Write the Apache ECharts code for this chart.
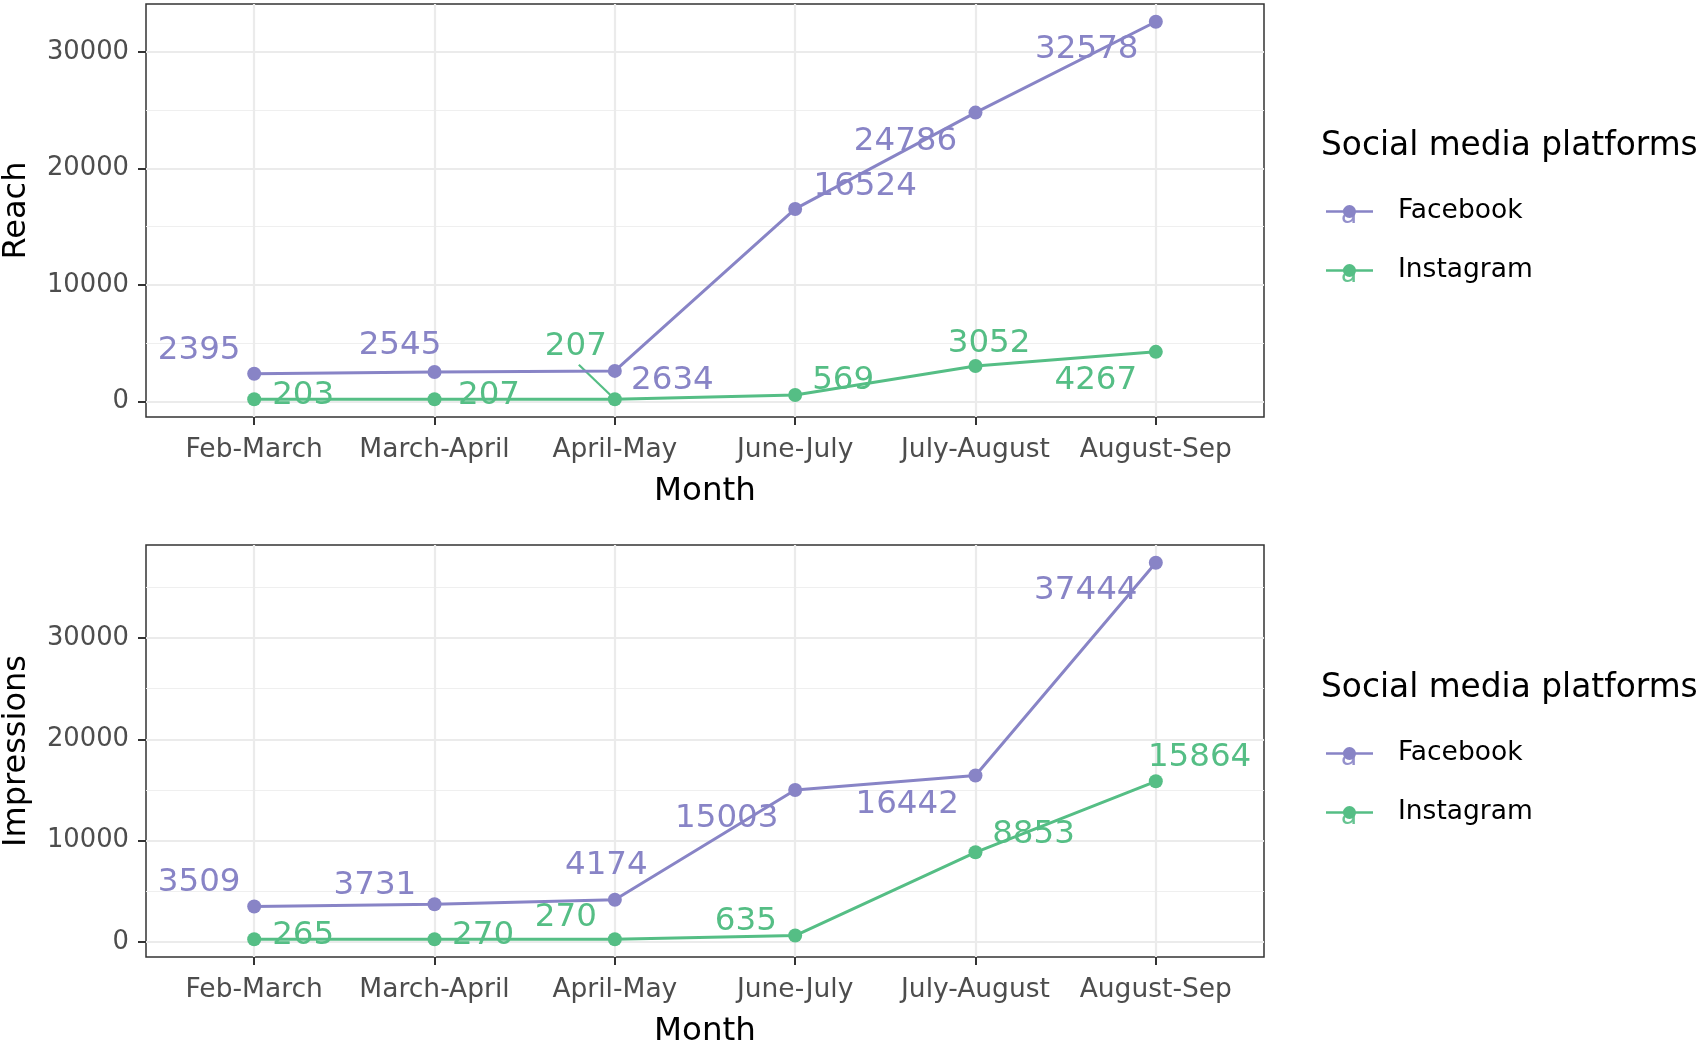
<!DOCTYPE html>
<html><head><meta charset="utf-8">
<script src="https://cdn.jsdelivr.net/npm/echarts@6/dist/echarts.min.js"></script>
<style>html,body{margin:0;padding:0;background:#fff}#c{width:1699px;height:1044px}</style>
</head><body><div id="c"></div>
<script>
// ---- data ----
const months = ['Feb-March', 'March-April', 'April-May', 'June-July', 'July-August', 'August-Sep'];
const reachFacebook = [2395, 2545, 2634, 16524, 24786, 32578];
const reachInstagram = [203, 207, 207, 569, 3052, 4267];
const impFacebook = [3509, 3731, 4174, 15003, 16442, 37444];
const impInstagram = [265, 270, 270, 635, 8853, 15864];
const reachTicks = [0, 10000, 20000, 30000];
const reachMinorTicks = [5000, 15000, 25000];
const impTicks = [0, 10000, 20000, 30000];
const impMinorTicks = [5000, 15000, 25000, 35000];
const platforms = ['Facebook', 'Instagram'];

// ---- style ----
const FONT = 'DejaVu Sans';
const COLORS = { Facebook: '#8884C6', Instagram: '#55BE85' };
// label offsets (px) relative to each point, like ggrepel placement
const labelOffsets = [
  [[-55, -25], [-34.5, -28], [57.6, 7.7], [70, -24], [-70, 27], [-69, 26]],
  [[49, -5.5], [54.5, -5.5], [-39, -54], [48, -16], [13.6, -24.4], [-60, 26.7]],
  [[-55, -25], [-59.6, -20], [-8.5, -35.6], [-68.4, 27], [-68.3, 28], [-70, 26.3]],
  [[49, -5], [48.6, -5], [-49, -23.3], [-49.3, -15.2], [58, -19.3], [43.8, -25.6]]
];
const LABEL_DY = 1.5;
// ggrepel-style segments: [seriesIndex, dataIndex, start offset from label centre]
const leaderSegments = [[1, 2, [3, 18]]];

function expandRange(arrs) {
  const all = [].concat(...arrs);
  const lo = Math.min(...all), hi = Math.max(...all);
  const pad = 0.047 * (hi - lo);
  return [lo - pad, hi + pad];
}
const reachRange = expandRange([reachFacebook, reachInstagram]);
const impRange = expandRange([impFacebook, impInstagram]);

const xIdx = months.map((m, i) => i);
function xAxis(g) {
  return {
    type: 'value', gridIndex: g, min: -0.6, max: 5.6,
    axisLine: { show: false, onZero: false },
    axisTick: { show: true, length: 8, lineStyle: { color: '#333333', width: 2 }, customValues: xIdx },
    axisLabel: { customValues: xIdx, formatter: v => months[Math.round(v)], fontSize: 26.5, color: '#4D4D4D', margin: 20, fontFamily: FONT },
    splitLine: { show: true, lineStyle: { color: '#EBEBEB', width: 2.2 } },
    name: 'Month', nameLocation: 'middle', nameGap: 58,
    nameTextStyle: { fontSize: 32.5, color: '#000', fontFamily: FONT }
  };
}
function yAxisMain(g, range, ticks, name) {
  return {
    type: 'value', gridIndex: g, min: range[0], max: range[1],
    axisLine: { show: false, onZero: false },
    axisTick: { show: true, length: 8, lineStyle: { color: '#333333', width: 2 }, customValues: ticks },
    axisLabel: { customValues: ticks, formatter: v => String(v), fontSize: 25.8, color: '#4D4D4D', margin: 17, padding: [4, 0, 0, 0], fontFamily: FONT },
    splitLine: { show: true, lineStyle: { color: '#EBEBEB', width: 2.2 } },
    name: name, nameLocation: 'middle', nameGap: 113,
    nameTextStyle: { fontSize: 32, color: '#000', fontFamily: FONT }
  };
}
function yAxisMinor(g, range, ticks) {
  return {
    type: 'value', gridIndex: g, min: range[0], max: range[1], position: 'left',
    axisLine: { show: false, onZero: false },
    axisTick: { show: false, customValues: ticks },
    axisLabel: { show: false, customValues: ticks },
    splitLine: { show: true, lineStyle: { color: '#EFEFEF', width: 1.2 } }
  };
}

function makeSeries(name, values, g, yIndex, sIdx) {
  return {
    type: 'line', name: name, xAxisIndex: g, yAxisIndex: yIndex,
    data: values.map((v, i) => [i, v]),
    symbol: 'circle', symbolSize: 14,
    lineStyle: { color: COLORS[name], width: 3 },
    itemStyle: { color: COLORS[name] },
    label: {
      show: true, position: 'inside', formatter: p => String(p.value[1]),
      fontSize: 32.5, color: COLORS[name], fontFamily: FONT
    },
    labelLayout: p => ({ dx: labelOffsets[sIdx][p.dataIndex][0], dy: labelOffsets[sIdx][p.dataIndex][1] + LABEL_DY }),
    emphasis: { disabled: true },
    z: 3
  };
}

const KEY_ICON = 'path://M0,5.75H47V8.25H0Z M17,7a6.5,6.5 0 1,1 13,0a6.5,6.5 0 1,1 -13,0Z';
const chart = echarts.init(document.getElementById('c'), null, { renderer: 'canvas' });
const legendCommon = {
  orient: 'vertical', left: 1326, itemWidth: 47, itemHeight: 13, itemGap: 32, padding: 0,
  selectedMode: false,
  textStyle: { fontSize: 26.5, color: '#000', fontFamily: FONT, padding: [0, 0, 0, 20] },
  data: platforms.map(p => ({ name: p, icon: KEY_ICON, itemStyle: { color: COLORS[p] } }))
};
const keyA = (x, y, color) => ({ type: 'text', x: x, y: y, z: 1, style: { text: 'a', fill: color, opacity: 0.9, align: 'center', verticalAlign: 'middle', font: '27px "DejaVu Sans"' } });

const seriesList = [
  makeSeries('Facebook', reachFacebook, 0, 0, 0),
  makeSeries('Instagram', reachInstagram, 0, 0, 1),
  makeSeries('Facebook', impFacebook, 1, 2, 2),
  makeSeries('Instagram', impInstagram, 1, 2, 3)
];

chart.setOption({
  animation: false,
  backgroundColor: '#fff',
  title: [
    { text: 'Social media platforms', left: 1316, top: 125, textStyle: { fontSize: 32.8, fontWeight: 'normal', color: '#000', fontFamily: FONT } },
    { text: 'Social media platforms', left: 1316, top: 667, textStyle: { fontSize: 32.8, fontWeight: 'normal', color: '#000', fontFamily: FONT } }
  ],
  legend: [
    Object.assign({}, legendCommon, { top: 198 }),
    Object.assign({}, legendCommon, { top: 740 })
  ],
  grid: [
    { left: 146, top: 4, width: 1118, height: 413, show: true, borderColor: '#333333', borderWidth: 1.5, backgroundColor: 'transparent', outerBoundsMode: 'none', containLabel: false },
    { left: 146, top: 545, width: 1118, height: 412, show: true, borderColor: '#333333', borderWidth: 1.5, backgroundColor: 'transparent', outerBoundsMode: 'none', containLabel: false }
  ],
  xAxis: [xAxis(0), xAxis(1)],
  yAxis: [
    yAxisMain(0, reachRange, reachTicks, 'Reach'),
    yAxisMinor(0, reachRange, reachMinorTicks),
    yAxisMain(1, impRange, impTicks, 'Impressions'),
    yAxisMinor(1, impRange, impMinorTicks)
  ],
  series: seriesList,
  graphic: [
    keyA(1349, 216, COLORS.Facebook), keyA(1349, 275, COLORS.Instagram),
    keyA(1349, 758, COLORS.Facebook), keyA(1349, 817, COLORS.Instagram)
  ]
});

// leader segments from label to point, positioned through the chart's own scales
const segs = leaderSegments.map(([s, i, start]) => {
  const p = chart.convertToPixel({ seriesIndex: s }, seriesList[s].data[i]);
  const off = labelOffsets[s][i];
  const cx = p[0] + off[0], cy = p[1] + off[1] + LABEL_DY;
  return {
    type: 'line', z: 2, silent: true,
    shape: { x1: cx + start[0], y1: cy + start[1], x2: p[0], y2: p[1] },
    style: { stroke: COLORS[seriesList[s].name], lineWidth: 2.2 }
  };
});
chart.setOption({ graphic: segs.map((g, k) => Object.assign({ id: 'seg' + k }, g)) });
</script></body></html>
